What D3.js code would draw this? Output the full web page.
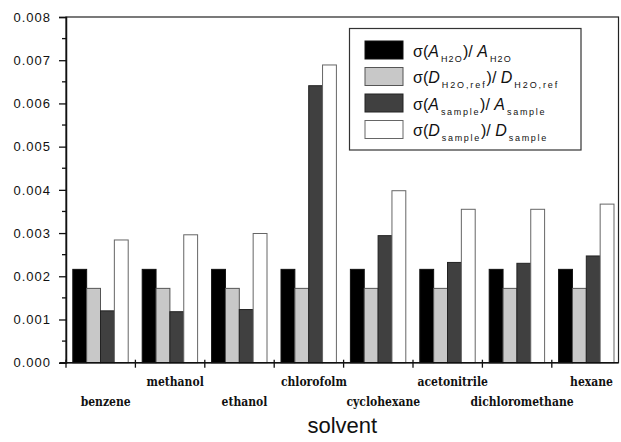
<!DOCTYPE html>
<html>
<head>
<meta charset="utf-8">
<script src="https://cdn.jsdelivr.net/npm/d3@7"></script>
<style>
  body { margin: 0; background: #fff; }
  svg { display: block; }
</style>
</head>
<body>
<script>
// data
var solvents = ["benzene", "methanol", "ethanol", "chlorofolm", "cyclohexane", "acetonitrile", "dichloromethane", "hexane"];
var seriesKeys = ["aH2O", "dH2Oref", "aSample", "dSample"];
var aH2O = [0.00216, 0.00216, 0.00216, 0.00216, 0.00216, 0.00216, 0.00216, 0.00216];
var dH2Oref = [0.00172, 0.00172, 0.00172, 0.00172, 0.00172, 0.00172, 0.00172, 0.00172];
var aSample = [0.00120, 0.00118, 0.00123, 0.00641, 0.00294, 0.00232, 0.00230, 0.00247];
var dSample = [0.00284, 0.00296, 0.00299, 0.00689, 0.00398, 0.00355, 0.00355, 0.00367];
var yTicks = [0, 0.001, 0.002, 0.003, 0.004, 0.005, 0.006, 0.007, 0.008];
var xTitle = "solvent";

var seriesValues = { aH2O: aH2O, dH2Oref: dH2Oref, aSample: aSample, dSample: dSample };
var fills = { aH2O: "#000000", dH2Oref: "#c8c8c8", aSample: "#404040", dSample: "#ffffff" };
var strokes = { aH2O: "#111", dH2Oref: "#555", aSample: "#222", dSample: "#666" };

var W = 621, H = 442;
var plotLeft = 66, plotTop = 17, plotRight = 618.5, plotBottom = 362.7;

var svg = d3.select("body").append("svg")
  .attr("width", W)
  .attr("height", H);

var x0 = d3.scaleBand().domain(solvents).range([plotLeft, plotLeft + 8 * 69.4]);
var x1 = d3.scaleBand().domain(seriesKeys).range([6.8, 62.2]);
var y = d3.scaleLinear().domain([0, 0.008]).range([plotBottom, plotTop]);

// frame
svg.append("rect")
  .attr("x", plotLeft).attr("y", plotTop)
  .attr("width", plotRight - plotLeft).attr("height", plotBottom - plotTop)
  .attr("fill", "none").attr("stroke", "#222").attr("stroke-width", 1.2);

// bars
var groups = svg.selectAll("g.grp")
  .data(solvents)
  .enter().append("g")
  .attr("class", "grp")
  .attr("transform", d => "translate(" + x0(d) + ",0)");

groups.selectAll("rect")
  .data((d, i) => seriesKeys.map(k => ({ key: k, value: seriesValues[k][i] })))
  .enter().append("rect")
  .attr("x", d => x1(d.key))
  .attr("y", d => y(d.value))
  .attr("width", x1.bandwidth())
  .attr("height", d => y(0) - y(d.value))
  .attr("fill", d => fills[d.key])
  .attr("stroke", d => strokes[d.key])
  .attr("stroke-width", 1);

// y axis
var yAxis = svg.append("g")
  .attr("transform", "translate(" + plotLeft + ",0)")
  .call(d3.axisLeft(y).tickValues(yTicks).tickSize(7).tickPadding(8).tickFormat(d3.format(".3f")));
yAxis.select(".domain").attr("stroke", "#111").attr("stroke-width", 1.5);
yAxis.selectAll(".tick line").attr("stroke", "#111").attr("stroke-width", 1.3);
yAxis.selectAll("text")
  .attr("font-family", "Liberation Sans, Arial, sans-serif")
  .attr("font-size", 13)
  .attr("letter-spacing", 1)
  .attr("fill", "#111");

// minor y ticks
var minor = d3.range(0.0005, 0.008, 0.001);
svg.append("g").selectAll("line")
  .data(minor)
  .enter().append("line")
  .attr("x1", plotLeft - 4).attr("x2", plotLeft)
  .attr("y1", d => y(d)).attr("y2", d => y(d))
  .attr("stroke", "#111").attr("stroke-width", 1.3);

// x axis line + group ticks
svg.append("line")
  .attr("x1", plotLeft - 6).attr("x2", plotRight)
  .attr("y1", plotBottom).attr("y2", plotBottom)
  .attr("stroke", "#111").attr("stroke-width", 1.5);

svg.append("g").selectAll("line")
  .data(solvents)
  .enter().append("line")
  .attr("x1", d => x0(d)).attr("x2", d => x0(d))
  .attr("y1", plotBottom - 3).attr("y2", plotBottom + 5)
  .attr("stroke", "#111").attr("stroke-width", 1.3);

// category labels, staggered
svg.append("g").selectAll("text")
  .data(solvents)
  .enter().append("text")
  .attr("x", d => x0(d) + x0.bandwidth() / 2 + 5)
  .attr("y", (d, i) => i % 2 === 0 ? 406 : 386)
  .attr("text-anchor", "middle")
  .attr("font-family", "DejaVu Serif Condensed, DejaVu Serif, serif")
  .attr("font-stretch", "condensed")
  .attr("font-weight", "bold")
  .attr("font-size", 12)
  .attr("fill", "#111")
  .text(d => d);

// axis title
svg.append("text")
  .attr("x", (plotLeft + plotRight) / 2)
  .attr("y", 433)
  .attr("text-anchor", "middle")
  .attr("font-family", "Liberation Sans, Arial, sans-serif")
  .attr("font-size", 22)
  .attr("fill", "#111")
  .text(xTitle);

// legend
var legendLabels = [
  [["σ(", ""], ["A", "i"], ["H2O", "s"], [")/ ", ""], ["A", "i"], ["H2O", "s"]],
  [["σ(", ""], ["D", "i"], ["H2O,ref", "s"], [")/ ", ""], ["D", "i"], ["H2O,ref", "s"]],
  [["σ(", ""], ["A", "i"], ["sample", "s"], [")/ ", ""], ["A", "i"], ["sample", "s"]],
  [["σ(", ""], ["D", "i"], ["sample", "s"], [")/ ", ""], ["D", "i"], ["sample", "s"]]
];
var subSpacing = [1.2, 1.9, 1.7, 1.7];

var legend = svg.append("g");
legend.append("rect")
  .attr("x", 349.5).attr("y", 28.5)
  .attr("width", 231.5).attr("height", 121.5)
  .attr("fill", "#fff").attr("stroke", "#333").attr("stroke-width", 1.2);

var rows = legend.selectAll("g.row")
  .data(seriesKeys)
  .enter().append("g")
  .attr("class", "row")
  .attr("transform", (d, i) => "translate(365," + (41 + i * 26.5) + ")");

rows.append("rect")
  .attr("width", 38).attr("height", 18)
  .attr("fill", d => fills[d])
  .attr("stroke", d => strokes[d]);

rows.append("text")
  .attr("x", 48)
  .attr("y", 15.5)
  .attr("font-family", "Liberation Sans, Arial, sans-serif")
  .attr("font-size", 16)
  .attr("fill", "#111")
  .each(function(d, i) {
    var t = d3.select(this);
    var prevSub = false;
    legendLabels[i].forEach(function(p) {
      var sp = t.append("tspan").text(p[0]);
      if (p[1] === "i") sp.attr("font-style", "italic");
      if (p[1] === "s") {
        sp.attr("font-size", 9).attr("letter-spacing", subSpacing[i]).attr("dy", 5).attr("dx", 2);
        prevSub = true;
      } else if (prevSub) {
        sp.attr("dy", -5);
        prevSub = false;
      }
    });
  });
</script>
</body>
</html>
